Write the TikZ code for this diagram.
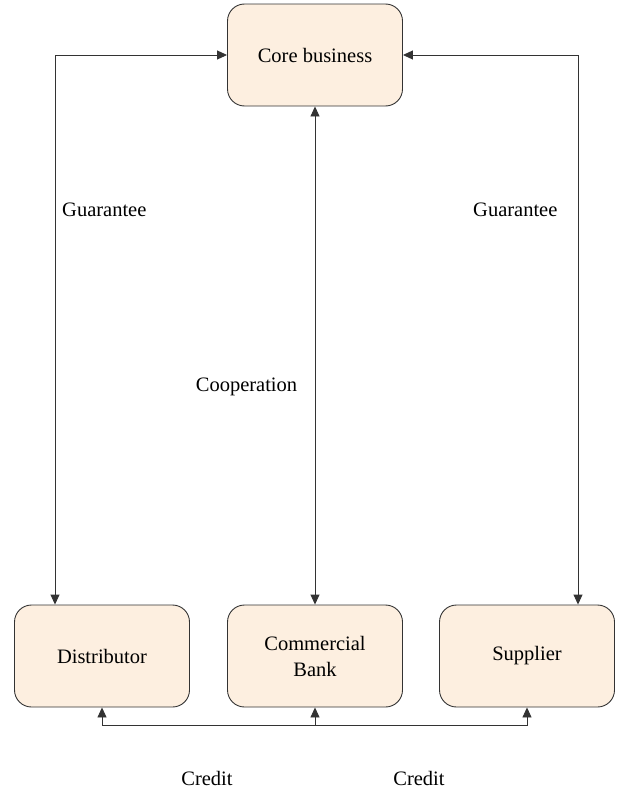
\documentclass[tikz,border=0pt]{standalone}
\usepackage{fontspec}
\setmainfont{Liberation Serif}
\usetikzlibrary{arrows.meta}
\definecolor{boxfill}{HTML}{FDEFE0}
\definecolor{linec}{HTML}{333333}
\begin{document}
\begin{tikzpicture}[x=1pt,y=-1pt,
  box/.style={draw=linec, line width=0.9pt, fill=boxfill, rounded corners=17pt,
    minimum width=175pt, minimum height=102pt, align=center, font=\fontsize{20.5}{26}\selectfont},
  conn/.style={draw=linec, line width=0.9pt, {Triangle[length=10pt,width=9pt]}-{Triangle[length=10pt,width=9pt]}},
  oneway/.style={draw=linec, line width=0.9pt, -{Triangle[length=10pt,width=9pt]}},
  lab/.style={font=\fontsize{20.5}{26}\selectfont, inner sep=0pt}]
\useasboundingbox (0,0) rectangle (616,795);
\node[box] (core) at (315,55) {Core business};
\node[box] (dist) at (102,656) {Distributor};
\node[box] (bank) at (315,656) {Commercial\\Bank};
\node[box] (supp) at (527,656) {Supplier};
\coordinate (lx) at (55,0);
\coordinate (rx) at (578,0);
\coordinate (j) at (315,725);
\draw[conn] (core.west) -| (dist.north -| lx);
\draw[conn] (core.east) -| (supp.north -| rx);
\draw[conn] (core.south) -- (bank.north);
\draw[oneway] (j) -- (bank.south);
\draw[oneway] (j) -| (dist.south);
\draw[oneway] (j) -| (supp.south);
\node[lab, anchor=west] (g1) at (62,210) {Guarantee};
\node[lab, anchor=west] (g2) at (473,210) {Guarantee};
\node[lab] (coop) at (246.5,387) {Cooperation};
\node[lab] (c1) at (207,778) {Credit};
\node[lab] (c2) at (419,778) {Credit};
\end{tikzpicture}
\end{document}
